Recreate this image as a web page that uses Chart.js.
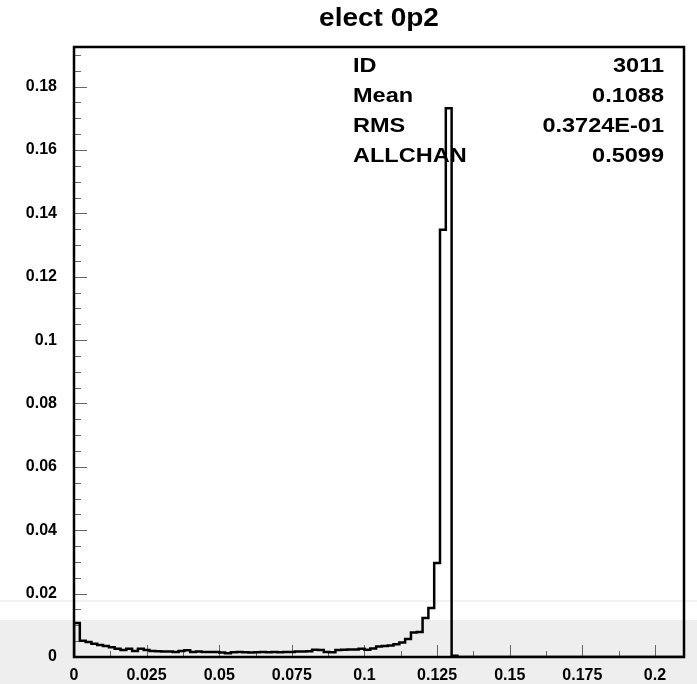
<!DOCTYPE html>
<html>
<head>
<meta charset="utf-8">
<script src="https://cdn.jsdelivr.net/npm/chart.js@4.4.1/dist/chart.umd.min.js"></script>
<style>
  html, body { margin: 0; padding: 0; }
  body {
    width: 697px; height: 684px; overflow: hidden;
    background: linear-gradient(to bottom, #ffffff 0px, #ffffff 600px, #f1f1f1 600px, #f1f1f1 602px, #ffffff 602px, #ffffff 620px, #eeeeee 620px, #eeeeee 684px);
  }
  #wrap { position: relative; width: 697px; height: 684px; }
</style>
</head>
<body>
<div id="wrap"><canvas id="histo" width="697" height="684"></canvas></div>
<script>
// Datos del histograma (ID 3011, bins de 0.002)
const titleText = 'elect 0p2';
const binWidth = 0.002;
const binValues = [
  0.0107, 0.0051, 0.0047, 0.0042, 0.0038, 0.0035, 0.0031, 0.0026, 0.0022, 0.0026,
  0.0019, 0.0026, 0.0022, 0.0019, 0.0018, 0.0017, 0.0017, 0.0016, 0.0019, 0.0021,
  0.0016, 0.0017, 0.0016, 0.0016, 0.0016, 0.0014, 0.0012, 0.0015, 0.0016, 0.0015,
  0.0014, 0.0015, 0.0016, 0.0015, 0.0016, 0.0015, 0.0016, 0.0016, 0.0017, 0.0017,
  0.0018, 0.0023, 0.0022, 0.0016, 0.0015, 0.0022, 0.0023, 0.0024, 0.0024, 0.0026,
  0.0023, 0.0027, 0.0033, 0.0035, 0.0036, 0.0040, 0.0046, 0.0057, 0.0077, 0.0079,
  0.0123, 0.0155, 0.0297, 0.1348, 0.1732, 0.0004, 0, 0, 0, 0,
  0, 0, 0, 0, 0, 0, 0, 0, 0, 0,
  0, 0, 0, 0, 0, 0, 0, 0, 0, 0,
  0, 0, 0, 0, 0, 0, 0, 0, 0, 0,
  0, 0, 0, 0, 0
];

// Ejes
const xMin = 0, xMax = 0.21;
const yMin = 0, yMax = 0.1925;
const xTickValues = [0, 0.025, 0.05, 0.075, 0.1, 0.125, 0.15, 0.175, 0.2];
const xTickLabels = ['0', '0.025', '0.05', '0.075', '0.1', '0.125', '0.15', '0.175', '0.2'];
const xMinorStep = 0.0125;
const yTickValues = [0, 0.02, 0.04, 0.06, 0.08, 0.1, 0.12, 0.14, 0.16, 0.18];
const yTickLabels = ['0', '0.02', '0.04', '0.06', '0.08', '0.1', '0.12', '0.14', '0.16', '0.18'];
const yMinorStep = 0.005;

// Caja de estadisticas
const statNames = ['ID', 'Mean', 'RMS', 'ALLCHAN'];
const statValues = ['3011', '0.1088', '0.3724E-01', '0.5099'];

// Contorno escalonado: borde izquierdo de cada bin
const outline = [{ x: xMin, y: 0 }];
binValues.forEach((v, i) => outline.push({ x: i * binWidth, y: v }));
outline.push({ x: binValues.length * binWidth, y: 0 });

const FONT = '"Liberation Sans", Arial, Helvetica, sans-serif';
const STRETCH = 1.12;

function stretchedText(ctx, text, x, y, size, align) {
  ctx.save();
  ctx.font = 'bold ' + size + 'px ' + FONT;
  ctx.textBaseline = 'alphabetic';
  ctx.textAlign = align;
  ctx.translate(x, y);
  ctx.scale(STRETCH, 1);
  ctx.fillText(text, 0, 0);
  ctx.restore();
}

// Marco, marcas interiores, titulo y estadisticas
const pawFrame = {
  id: 'pawFrame',
  beforeDatasetsDraw(chart) {
    const { ctx, chartArea: a } = chart;
    const xs = chart.scales.x, ys = chart.scales.y;
    ctx.save();
    ctx.fillStyle = '#000';
    stretchedText(ctx, titleText, (a.left + a.right) / 2, 26, 25, 'center');
    statNames.forEach((name, i) => {
      const base = 72 + i * 30;
      stretchedText(ctx, name, 353, base, 21, 'left');
      stretchedText(ctx, statValues[i], 664, base, 21, 'right');
    });

    ctx.strokeStyle = '#666';
    ctx.lineWidth = 1;
    ctx.beginPath();
    for (let v = yMin; v <= yMax + 1e-9; v += yMinorStep) {
      const major = Math.abs(v / 0.02 - Math.round(v / 0.02)) < 1e-6;
      const py = Math.round(ys.getPixelForValue(v)) + 0.5;
      ctx.moveTo(a.left, py);
      ctx.lineTo(a.left + (major ? 13 : 7), py);
    }
    for (let v = xMin; v <= xMax + 1e-9; v += xMinorStep) {
      const major = Math.abs(v / 0.025 - Math.round(v / 0.025)) < 1e-6;
      const px = Math.round(xs.getPixelForValue(v)) + 0.5;
      ctx.moveTo(px, a.bottom);
      ctx.lineTo(px, a.bottom - (major ? 12 : 6));
    }
    ctx.stroke();
    ctx.restore();
  },
  afterDatasetsDraw(chart) {
    const { ctx, chartArea: a } = chart;
    ctx.save();
    ctx.strokeStyle = '#000';
    ctx.lineWidth = 2.5;
    ctx.strokeRect(a.left, a.top, a.right - a.left, a.bottom - a.top);
    ctx.restore();
  }
};

const ctx = document.getElementById('histo').getContext('2d');
new Chart(ctx, {
  type: 'line',
  data: {
    datasets: [{
      data: outline,
      stepped: 'before',
      borderColor: '#000',
      borderWidth: 2.5,
      pointRadius: 0,
      fill: false
    }]
  },
  options: {
    responsive: false,
    animation: false,
    layout: { padding: { top: 47, right: 13, left: 0, bottom: 0 } },
    plugins: { legend: { display: false }, tooltip: { enabled: false }, title: { display: false } },
    scales: {
      x: {
        type: 'linear', min: xMin, max: xMax,
        afterFit: s => { s.height = 27; },
        afterBuildTicks: s => { s.ticks = xTickValues.map(v => ({ value: v })); },
        grid: { display: false, drawTicks: false },
        border: { display: false },
        ticks: {
          padding: 9, color: '#000', maxRotation: 0, autoSkip: false,
          font: { family: FONT, size: 16, weight: 'bold' },
          callback: (v, i) => xTickLabels[i]
        }
      },
      y: {
        type: 'linear', min: yMin, max: yMax,
        afterFit: s => { s.width = 74; },
        afterBuildTicks: s => { s.ticks = yTickValues.map(v => ({ value: v })); },
        grid: { display: false, drawTicks: false },
        border: { display: false },
        ticks: {
          padding: 17, color: '#000', autoSkip: false,
          font: { family: FONT, size: 16, weight: 'bold' },
          callback: (v, i) => yTickLabels[i]
        }
      }
    }
  },
  plugins: [pawFrame]
});
</script>
</body>
</html>
